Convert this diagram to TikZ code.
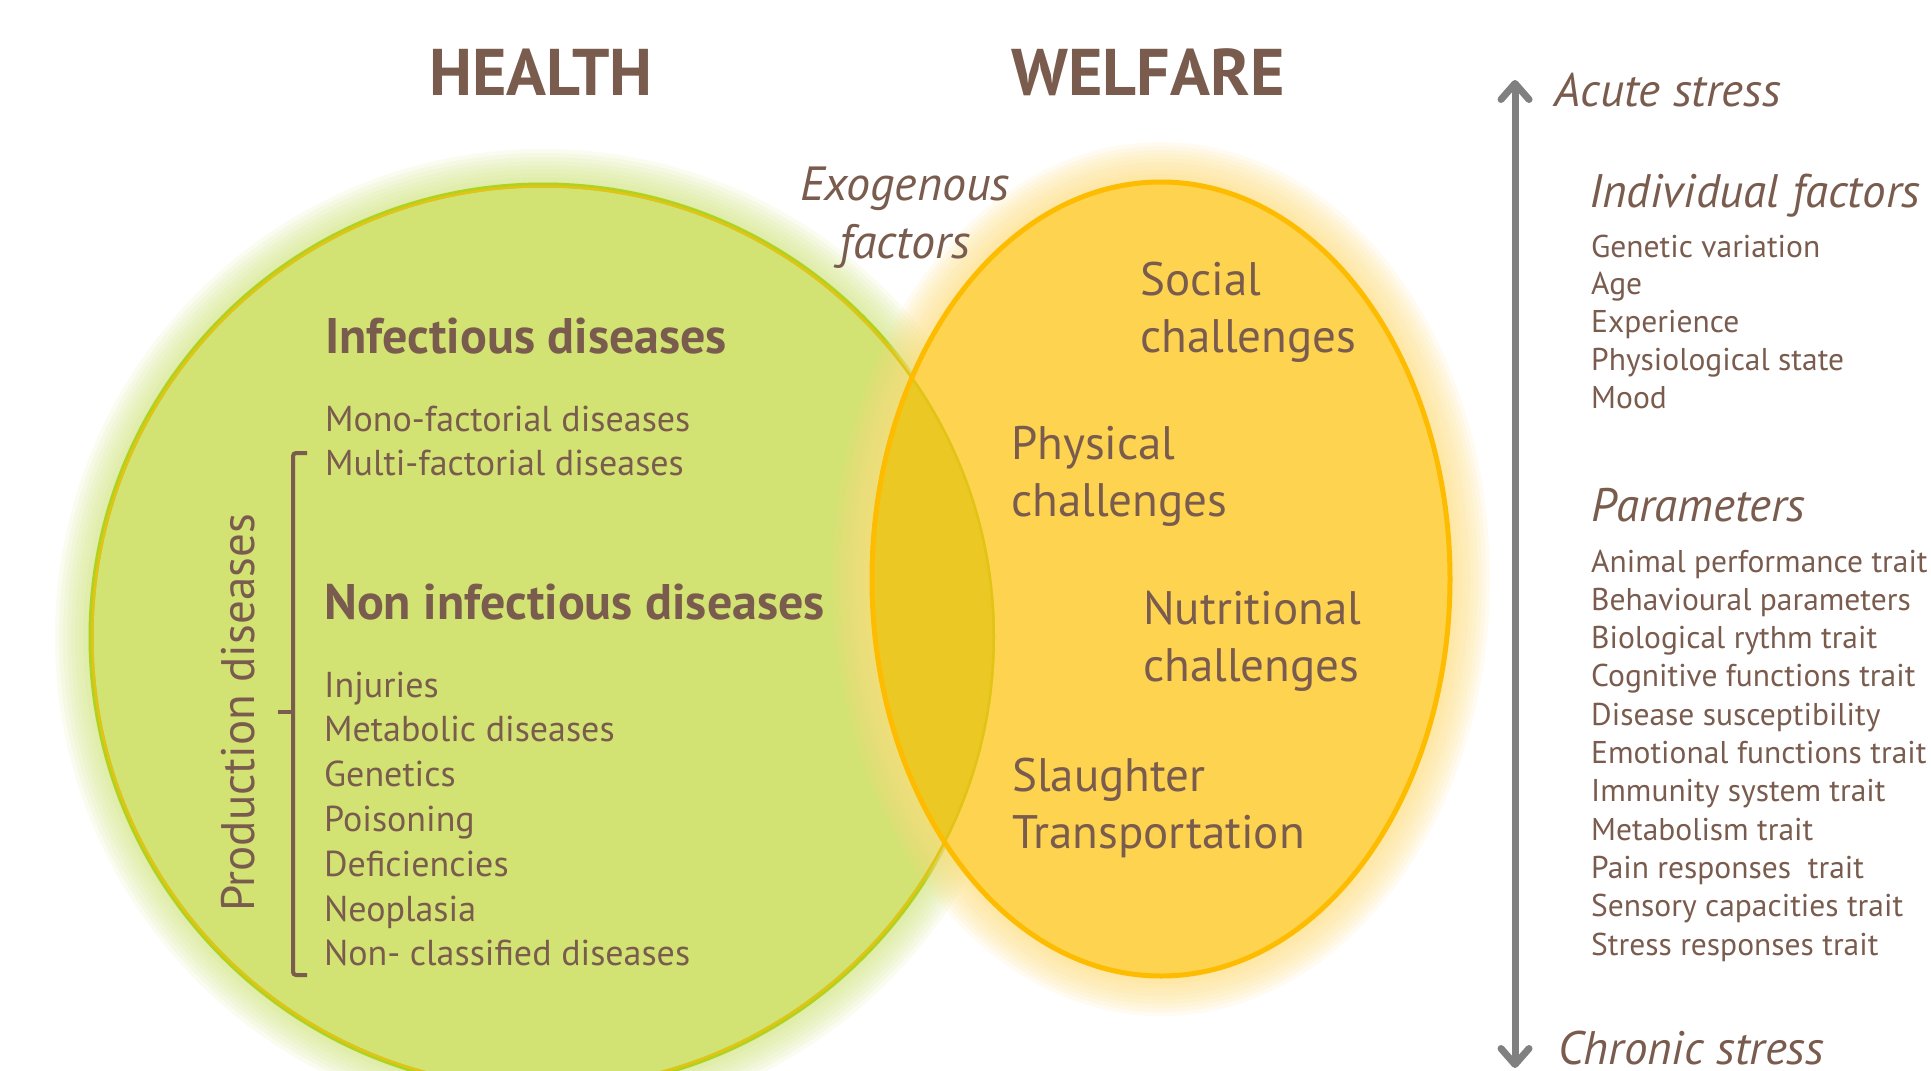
\documentclass[tikz,border=0pt]{standalone}
\usepackage{fontspec}
\setmainfont{PT Sans}
\usetikzlibrary{arrows.meta}
\definecolor{brownText}{RGB}{122,92,78}
\definecolor{healthGreen}{RGB}{210,226,115}
\definecolor{healthLine}{RGB}{174,210,30}
\definecolor{healthGlow}{RGB}{205,226,120}
\definecolor{welfareOrange}{RGB}{253,211,80}
\definecolor{welfareLine}{RGB}{253,188,0}
\definecolor{welfareGlow}{RGB}{253,222,130}
\definecolor{overlapYellow}{RGB}{236,200,36}
\definecolor{overlapLine}{RGB}{226,196,22}
\definecolor{axisGray}{RGB}{128,128,128}

\begin{document}
\begin{tikzpicture}[x=1pt, y=-1pt,
  txt/.style={text=brownText, inner sep=0pt, anchor=base west},
  title/.style={txt, anchor=base, font=\fontsize{66}{72}\selectfont\bfseries},
  heading/.style={txt, font=\fontsize{50}{56}\selectfont\bfseries},
  item/.style={txt, font=\fontsize{36}{42}\selectfont},
  challenge/.style={txt, align=left, font=\fontsize{47}{57}\selectfont},
  sidehead/.style={txt, font=\fontsize{47}{52}\selectfont\itshape},
  sideitem/.style={txt, font=\fontsize{31.5}{36}\selectfont}
  ]
  \useasboundingbox (0,0) rectangle (1931,1071);
  \clip (0,0) rectangle (1931,1071);

  % health circle with soft halo
  \foreach \w in {8,16,...,72}
    \draw[healthGlow, line width=\w pt, draw opacity=0.11] (543,637) circle [radius=452pt];
  \fill[healthGreen] (543,637) circle [radius=452pt];
  \draw[healthLine, line width=5pt] (543,637) circle [radius=452pt];

  % welfare ellipse with soft halo
  \foreach \w in {8,16,...,80}
    \draw[welfareGlow, line width=\w pt, draw opacity=0.12] (1161,579) ellipse [x radius=289pt, y radius=397pt];
  \fill[welfareOrange] (1161,579) ellipse [x radius=289pt, y radius=397pt];
  \begin{scope}
    \clip (543,637) circle [radius=452pt];
    \fill[overlapYellow] (1161,579) ellipse [x radius=289pt, y radius=397pt];
    \draw[overlapLine, line width=5pt] (543,637) circle [radius=452pt];
  \end{scope}
  \draw[welfareLine, line width=5pt] (1161,579) ellipse [x radius=289pt, y radius=397pt];

  % titles
  \node[title] (health) at (541,95) {HEALTH};
  \node[title] (welfare) at (1148,95) {WELFARE};
  \node[txt, anchor=base, align=center, font=\fontsize{48}{58}\selectfont\itshape]
    (exo) at (905,258) {Exogenous\\factors};

  % health side
  \node[heading] (infect) at (325,353) {Infectious diseases};
  \node[item] (mono) at (325,431) {Mono-factorial diseases};
  \node[item] (multi) at (325,475) {Multi-factorial diseases};
  \node[heading] (noninfect) at (324,619) {Non infectious diseases};
  \foreach \t [count=\i] in {Injuries, Metabolic diseases, Genetics, Poisoning,
      Deficiencies, Neoplasia, Non- classified diseases}
    \node[item] (noninf\i) at (324,{697+44.8*(\i-1)}) {\t};

  \draw[brownText, line width=4pt, rounded corners=3pt]
    (307,453) -- (293,453) -- (293,975) -- (307,975);
  \draw[brownText, line width=4pt] (293,712) -- (278,712);
  \node[item, anchor=center, rotate=90, font=\fontsize{47}{52}\selectfont]
    (prod) at (238,713) {Production diseases};

  % welfare side
  \node[challenge] (social) at (1140,352) {Social\\challenges};
  \node[challenge] (physical) at (1011,516) {Physical\\challenges};
  \node[challenge] (nutrition) at (1143,681) {Nutritional\\challenges};
  \node[challenge] (slaughter) at (1012,848) {Slaughter\\Transportation};

  % stress axis
  \coordinate (acuteEnd) at (1515,80);
  \coordinate (chronicEnd) at (1515,1068);
  \draw[axisGray, line width=7pt,
    {Straight Barb[length=16pt, width=28pt, round]}-{Straight Barb[length=16pt, width=28pt, round]}]
    (acuteEnd) -- (chronicEnd);
  \node[sidehead] (acute) at (1554,106) {Acute stress};
  \node[sidehead] (chronic) at (1558,1064) {Chronic stress};

  \node[sidehead] (indiv) at (1589,207) {Individual factors};
  \foreach \t [count=\i] in {Genetic variation, Age, Experience,
      Physiological state, Mood}
    \node[sideitem] (indiv\i) at (1591,{257+37.8*(\i-1)}) {\t};

  \node[sidehead] (param) at (1591,521) {Parameters};
  \foreach \t [count=\i] in {Animal performance trait, Behavioural parameters,
      Biological rythm trait, Cognitive functions trait, Disease susceptibility,
      Emotional functions trait, Immunity system trait, Metabolism trait,
      Pain responses~ trait, Sensory capacities trait, Stress responses trait}
    \node[sideitem] (param\i) at (1591,{572+38.3*(\i-1)}) {\t};
\end{tikzpicture}
\end{document}
